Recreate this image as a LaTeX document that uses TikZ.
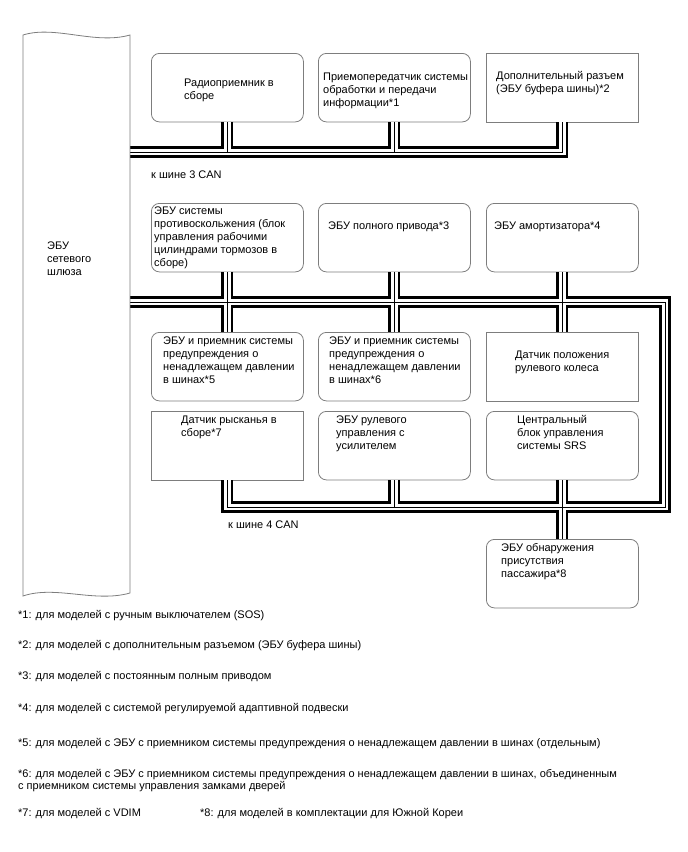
\documentclass[tikz,border=0pt]{standalone}
\usepackage{fontspec}
\setmainfont{Liberation Sans}
\usepackage{tikz}
\definecolor{FrameGray}{RGB}{125,125,125}

\begin{document}
\begin{tikzpicture}[x=1pt,y=-1pt,
    ecu/.style={draw=FrameGray,line width=0.8pt,rounded corners=8pt,minimum width=152pt,minimum height=68.5pt,anchor=north west,inner sep=0pt},
    ecusq/.style={ecu,rounded corners=0pt},
    lbl/.style={anchor=north west,align=left,inner sep=0pt,font=\fontsize{11}{13}\selectfont},
    busout/.style={line width=12pt,black},
    busin/.style={line width=6.6pt,white},
    busmid/.style={line width=0.9pt,black}]
      \useasboundingbox (0,0) rectangle (688,852);
      \node[ecu] (radio) at (151,53) {};
      \node[ecu] (dcm) at (318,53) {};
      \node[ecusq] (bufcon) at (486,53) {};
      \node[ecu] (skid) at (151,203) {};
      \node[ecu] (awd) at (318,203) {};
      \node[ecu] (absorb) at (486,203) {};
      \node[ecu] (tpws) at (151,332) {};
      \node[ecu] (tpwsdl) at (318,332) {};
      \node[ecusq] (steer) at (486,332) {};
      \node[ecusq] (yaw) at (151,411) {};
      \node[ecu] (eps) at (318,411) {};
      \node[ecu] (srs) at (486,411) {};
      \node[ecu] (occup) at (486,539) {};
      \coordinate (gw3) at (130,152);
      \coordinate (gw4) at (130,302);
      \coordinate (c4ne) at (665,302);
      \coordinate (c4se) at (665,507);
      \foreach \lay in {busout,busin,busmid}{
        \draw[\lay] (gw3) -- (bufcon.south |- gw3) -- (bufcon.south);
        \draw[\lay] (radio.south) -- (radio.south |- gw3);
        \draw[\lay] (dcm.south) -- (dcm.south |- gw3);
        \draw[\lay] (gw4) -- (c4ne) -- (c4se) -- (yaw.south |- c4se) -- (yaw.south);
        \draw[\lay] (skid.south) -- (tpws.north);
        \draw[\lay] (awd.south) -- (tpwsdl.north);
        \draw[\lay] (absorb.south) -- (steer.north);
        \draw[\lay] (eps.south) -- (eps.south |- c4se);
        \draw[\lay] (srs.south) -- (occup.north);
      }
      \draw[FrameGray,line width=0.8pt] (23,35) .. controls (55,25) and (95,45) .. (130,35)
        -- (130,593) .. controls (95,603) and (55,585) .. (23,596) -- cycle;
      \node[lbl] (gw-t) at (47,241.5) {ЭБУ\\сетевого\\шлюза};
      \node[lbl] (radio-t) at (184,78.5) {Радиоприемник в\\сборе};
      \node[lbl] (dcm-t) at (323,72.5) {Приемопередатчик системы\\обработки и передачи\\информации*1};
      \node[lbl] (bufcon-t) at (496,71.5) {Дополнительный разъем\\(ЭБУ буфера шины)*2};
      \node[lbl] (can3-t) at (151,171) {к шине 3 CAN};
      \node[lbl] (skid-t) at (154,206.5) {ЭБУ системы\\противоскольжения (блок\\управления рабочими\\цилиндрами тормозов в\\сборе)};
      \node[lbl] (awd-t) at (328,221.5) {ЭБУ полного привода*3};
      \node[lbl] (absorb-t) at (494,221.5) {ЭБУ амортизатора*4};
      \node[lbl] (tpws-t) at (163,336.5) {ЭБУ и приемник системы\\предупреждения о\\ненадлежащем давлении\\в шинах*5};
      \node[lbl] (tpwsdl-t) at (329,336.5) {ЭБУ и приемник системы\\предупреждения о\\ненадлежащем давлении\\в шинах*6};
      \node[lbl] (steer-t) at (515,350.5) {Датчик положения\\рулевого колеса};
      \node[lbl] (yaw-t) at (181,415.5) {Датчик рысканья в\\сборе*7};
      \node[lbl] (eps-t) at (336,415.5) {ЭБУ рулевого\\управления с\\усилителем};
      \node[lbl] (srs-t) at (517,415.5) {Центральный\\блок управления\\системы SRS};
      \node[lbl] (can4-t) at (228,521) {к шине 4 CAN};
      \node[lbl] (occup-t) at (501,543.5) {ЭБУ обнаружения\\присутствия\\пассажира*8};
      \node[lbl] (fn1) at (18,610) {*1: для моделей с ручным выключателем (SOS)};
      \node[lbl] (fn2) at (18,640) {*2: для моделей с дополнительным разъемом (ЭБУ буфера шины)};
      \node[lbl] (fn3) at (18,671) {*3: для моделей с постоянным полным приводом};
      \node[lbl] (fn4) at (18,703.5) {*4: для моделей с системой регулируемой адаптивной подвески};
      \node[lbl] (fn5) at (18,738.5) {*5: для моделей с ЭБУ с приемником системы предупреждения о ненадлежащем давлении в шинах (отдельным)};
      \node[lbl] (fn6) at (18,769.5) {*6: для моделей с ЭБУ с приемником системы предупреждения о ненадлежащем давлении в шинах, объединенным\\[-1pt]с приемником системы управления замками дверей};
      \node[lbl] (fn7) at (18,808) {*7: для моделей с VDIM};
      \node[lbl] (fn8) at (200,808) {*8: для моделей в комплектации для Южной Кореи};
    \end{tikzpicture}
\end{document}
